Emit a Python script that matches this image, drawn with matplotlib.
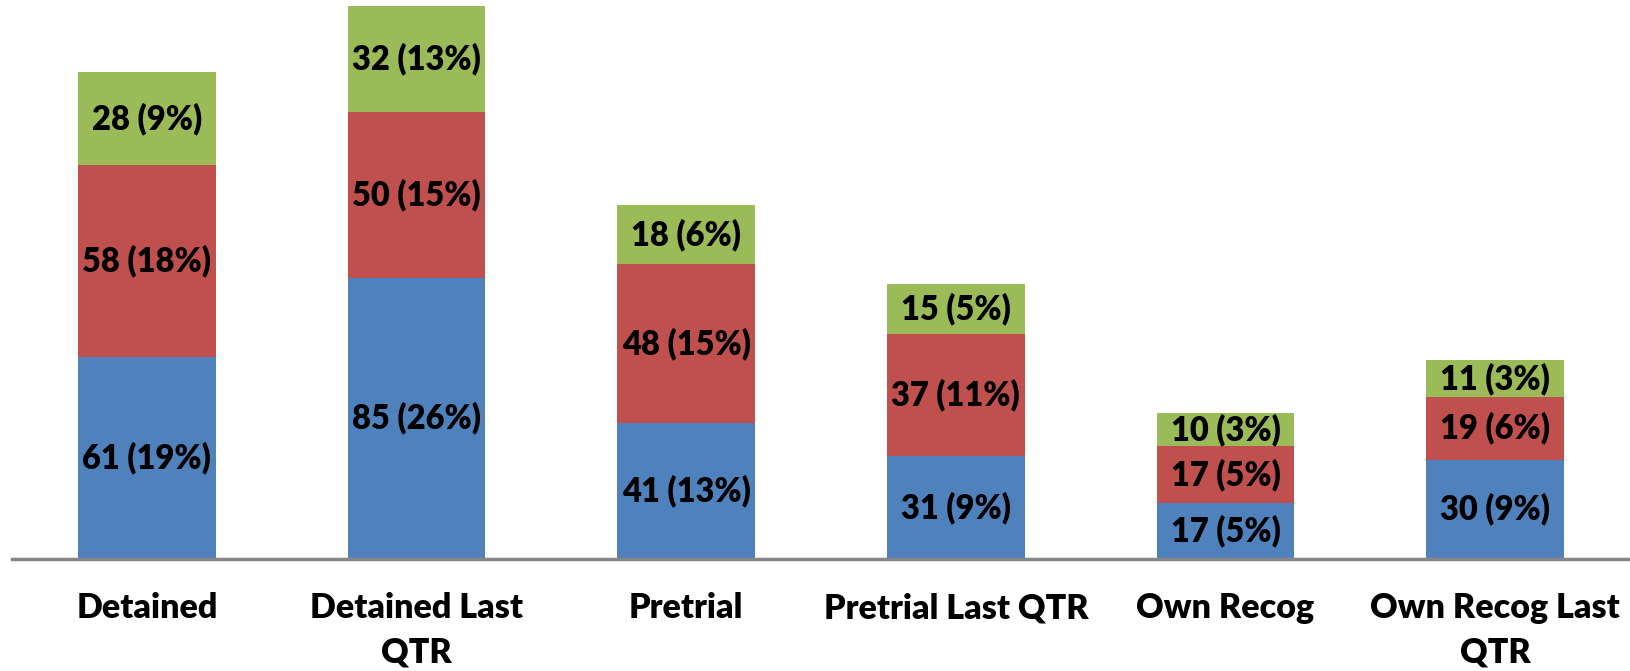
import numpy as np
import matplotlib.pyplot as plt

plt.rcParams['font.family'] = ['Lato', 'DejaVu Sans']

categories = ['Detained', 'Detained Last\nQTR', 'Pretrial', 'Pretrial Last QTR',
              'Own Recog', 'Own Recog Last\nQTR']
blue = [61, 85, 41, 31, 17, 30]
red = [58, 50, 48, 37, 17, 19]
green = [28, 32, 18, 15, 10, 11]
blue_pct = [19, 26, 13, 9, 5, 9]
red_pct = [18, 15, 15, 11, 5, 6]
green_pct = [9, 13, 6, 5, 3, 3]

colors = ['#4F81BD', '#C0504D', '#9BBB59']

fig = plt.figure(figsize=(16.3, 6.71), dpi=100)
ax = fig.add_axes([12 / 1630, 1 - 559 / 671, 1 - 12 / 1630, 559 / 671])

x = np.arange(len(categories))
width = 0.511
bottom = np.zeros(len(categories))
for vals, pcts, c in zip([blue, red, green], [blue_pct, red_pct, green_pct], colors):
    vals = np.array(vals)
    ax.bar(x, vals, width, bottom=bottom, color=c, linewidth=0)
    for xi, b, v, p in zip(x, bottom, vals, pcts):
        ax.text(xi, b + v / 2, f'{v} ({p}%)', ha='center', va='center',
                fontsize=23.5, fontweight='heavy', color='black')
    bottom += vals

ax.set_xlim(-0.5, 5.5)
ax.set_ylim(0, 168.8)
ax.set_xticks(x)
ax.set_xticklabels(categories, fontsize=24.5, fontweight='heavy', linespacing=1.45)
ax.tick_params(axis='x', length=0, pad=24)
ax.set_yticks([])
for s in ['top', 'right', 'left']:
    ax.spines[s].set_visible(False)
ax.spines['bottom'].set_color('#868686')
ax.spines['bottom'].set_linewidth(2.5)

fig.savefig('out.png', dpi=100)
